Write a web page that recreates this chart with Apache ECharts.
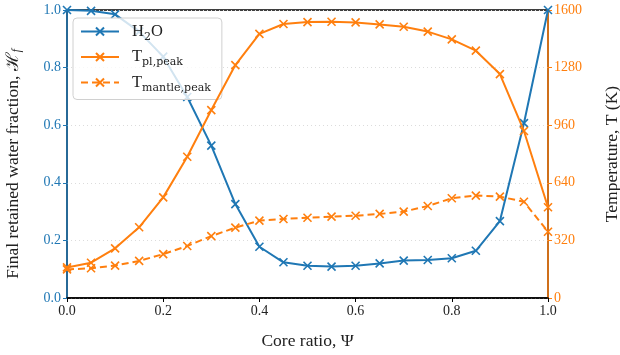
<!DOCTYPE html>
<html>
<head>
<meta charset="utf-8">
<script src="https://cdn.jsdelivr.net/npm/echarts@6/dist/echarts.min.js"></script>
<style>html,body{margin:0;padding:0;background:#fff}#c{width:620px;height:355px}</style>
</head>
<body>
<div id="c"></div>
<script>
const psi = [0.0,0.05,0.1,0.15,0.2,0.25,0.3,0.35,0.4,0.45,0.5,0.55,0.6,0.65,0.7,0.75,0.8,0.85,0.9,0.95,1.0];
const h2o = [1.0,0.997,0.985,0.925,0.838,0.698,0.529,0.326,0.178,0.124,0.112,0.109,0.112,0.120,0.130,0.132,0.138,0.164,0.267,0.607,1.0];
const tPl = [170,196,276,393,559,785,1044,1294,1467,1522,1533,1535,1531,1520,1507,1480,1437,1374,1244,928,504];
const tMantle = [159,165,180,206,244,289,344,391,430,439,446,452,457,467,480,511,554,569,563,535,368];
const xTicks = [0,0.2,0.4,0.6,0.8,1.0];
const leftTicks = [0,0.2,0.4,0.6,0.8,1.0];
const rightTicks = [0,320,640,960,1280,1600];

const BLUE = '#1f77b4', ORANGE = '#ff7f0e';
const FONT = 'Liberation Serif';
const SUBFONT = 'DejaVu Serif';
const cross = 'path://M0,0L10,10M10,0L0,10';
const pairs = (ys) => psi.map((x, i) => [x, ys[i]]);

const rich = {
  b: {fontFamily: FONT, fontSize: 16.5, color: '#222', lineHeight: 22},
  s: {fontFamily: SUBFONT, fontSize: 11, color: '#222', lineHeight: 12, verticalAlign: 'bottom'}
};

const chart = echarts.init(document.getElementById('c'), null, {renderer: 'canvas'});
chart.setOption({
  animation: false,
  grid: {left: 67, right: 72, top: 10, bottom: 57, show: true, borderColor: '#000', borderWidth: 1.5, backgroundColor: 'transparent', outerBoundsMode: 'none', containLabel: false},
  legend: {
    orient: 'vertical', left: 73, top: 18,
    padding: [5, 11, 6, 7], itemGap: 6,
    itemWidth: 38, itemHeight: 10,
    backgroundColor: 'rgba(255,255,255,0.8)', borderColor: '#d0d0d0', borderWidth: 1, borderRadius: 4,
    data: ['H2O', 'Tpl', 'Tmantle'],
    textStyle: {rich: rich, fontFamily: FONT, fontSize: 16.5, padding: [0, 0, 0, 8]},
    formatter: function (n) {
      if (n === 'H2O') return '{b|H}{s|2}{b|O}';
      if (n === 'Tpl') return '{b|T}{s|pl,peak}';
      return '{b|T}{s|mantle,peak}';
    }
  },
  xAxis: {
    type: 'value', min: xTicks[0], max: xTicks[xTicks.length - 1], interval: 0.2,
    name: 'Core ratio, Ψ', nameLocation: 'middle', nameGap: 34,
    nameTextStyle: {fontFamily: FONT, fontSize: 17.5, color: '#222'},
    axisLine: {lineStyle: {color: '#000', width: 1.5}},
    axisTick: {show: true, inside: false, length: 4, lineStyle: {color: '#000'}},
    axisLabel: {fontFamily: FONT, fontSize: 14, color: '#222', margin: 6, formatter: v => v.toFixed(1)},
    splitLine: {show: false}
  },
  yAxis: [{
    type: 'value', position: 'left', min: leftTicks[0], max: leftTicks[leftTicks.length - 1], interval: 0.2,
    name: '{a|Final retained water fraction, ℋ}{f|f}', nameLocation: 'middle', nameGap: 44, nameRotate: 90,
    nameTextStyle: {padding: [0, 20, 0, 0], rich: {a: {fontFamily: FONT, fontSize: 17.5, color: '#222', lineHeight: 19}, f: {fontFamily: FONT, fontSize: 11.5, color: '#222', fontStyle: 'italic', lineHeight: 10, verticalAlign: 'bottom'}}},
    axisLine: {show: true, lineStyle: {color: BLUE, width: 1.5}},
    axisTick: {show: true, inside: false, length: 4, lineStyle: {color: BLUE}},
    axisLabel: {fontFamily: FONT, fontSize: 14, color: BLUE, margin: 6, formatter: v => v.toFixed(1)},
    splitLine: {show: true, lineStyle: {color: '#dcdcdc', type: [1, 3], width: 1}}
  }, {
    type: 'value', position: 'right', min: rightTicks[0], max: rightTicks[rightTicks.length - 1], interval: 320,
    name: 'Temperature, T (K)', nameLocation: 'middle', nameGap: 55, nameRotate: 90,
    nameTextStyle: {fontFamily: FONT, fontSize: 17.5, color: '#222'},
    axisLine: {show: true, lineStyle: {color: ORANGE, width: 1.5}},
    axisTick: {show: true, inside: false, length: 4, lineStyle: {color: ORANGE}},
    axisLabel: {fontFamily: FONT, fontSize: 14, color: ORANGE, margin: 6, formatter: v => String(v)},
    splitLine: {show: false}
  }],
  series: [{
    name: 'H2O', type: 'line', yAxisIndex: 0, data: pairs(h2o),
    symbol: cross, symbolSize: 8, showAllSymbol: true,
    lineStyle: {color: BLUE, width: 2},
    itemStyle: {color: BLUE, borderColor: BLUE, borderWidth: 1.6},
    z: 3
  }, {
    name: 'Tpl', type: 'line', yAxisIndex: 1, data: pairs(tPl),
    symbol: cross, symbolSize: 8, showAllSymbol: true,
    lineStyle: {color: ORANGE, width: 2},
    itemStyle: {color: ORANGE, borderColor: ORANGE, borderWidth: 1.6},
    z: 4
  }, {
    name: 'Tmantle', type: 'line', yAxisIndex: 1, data: pairs(tMantle),
    symbol: cross, symbolSize: 8, showAllSymbol: true,
    lineStyle: {color: ORANGE, width: 2, type: [7, 4]},
    itemStyle: {color: ORANGE, borderColor: ORANGE, borderWidth: 1.6},
    z: 5
  }]
});
</script>
</body>
</html>
